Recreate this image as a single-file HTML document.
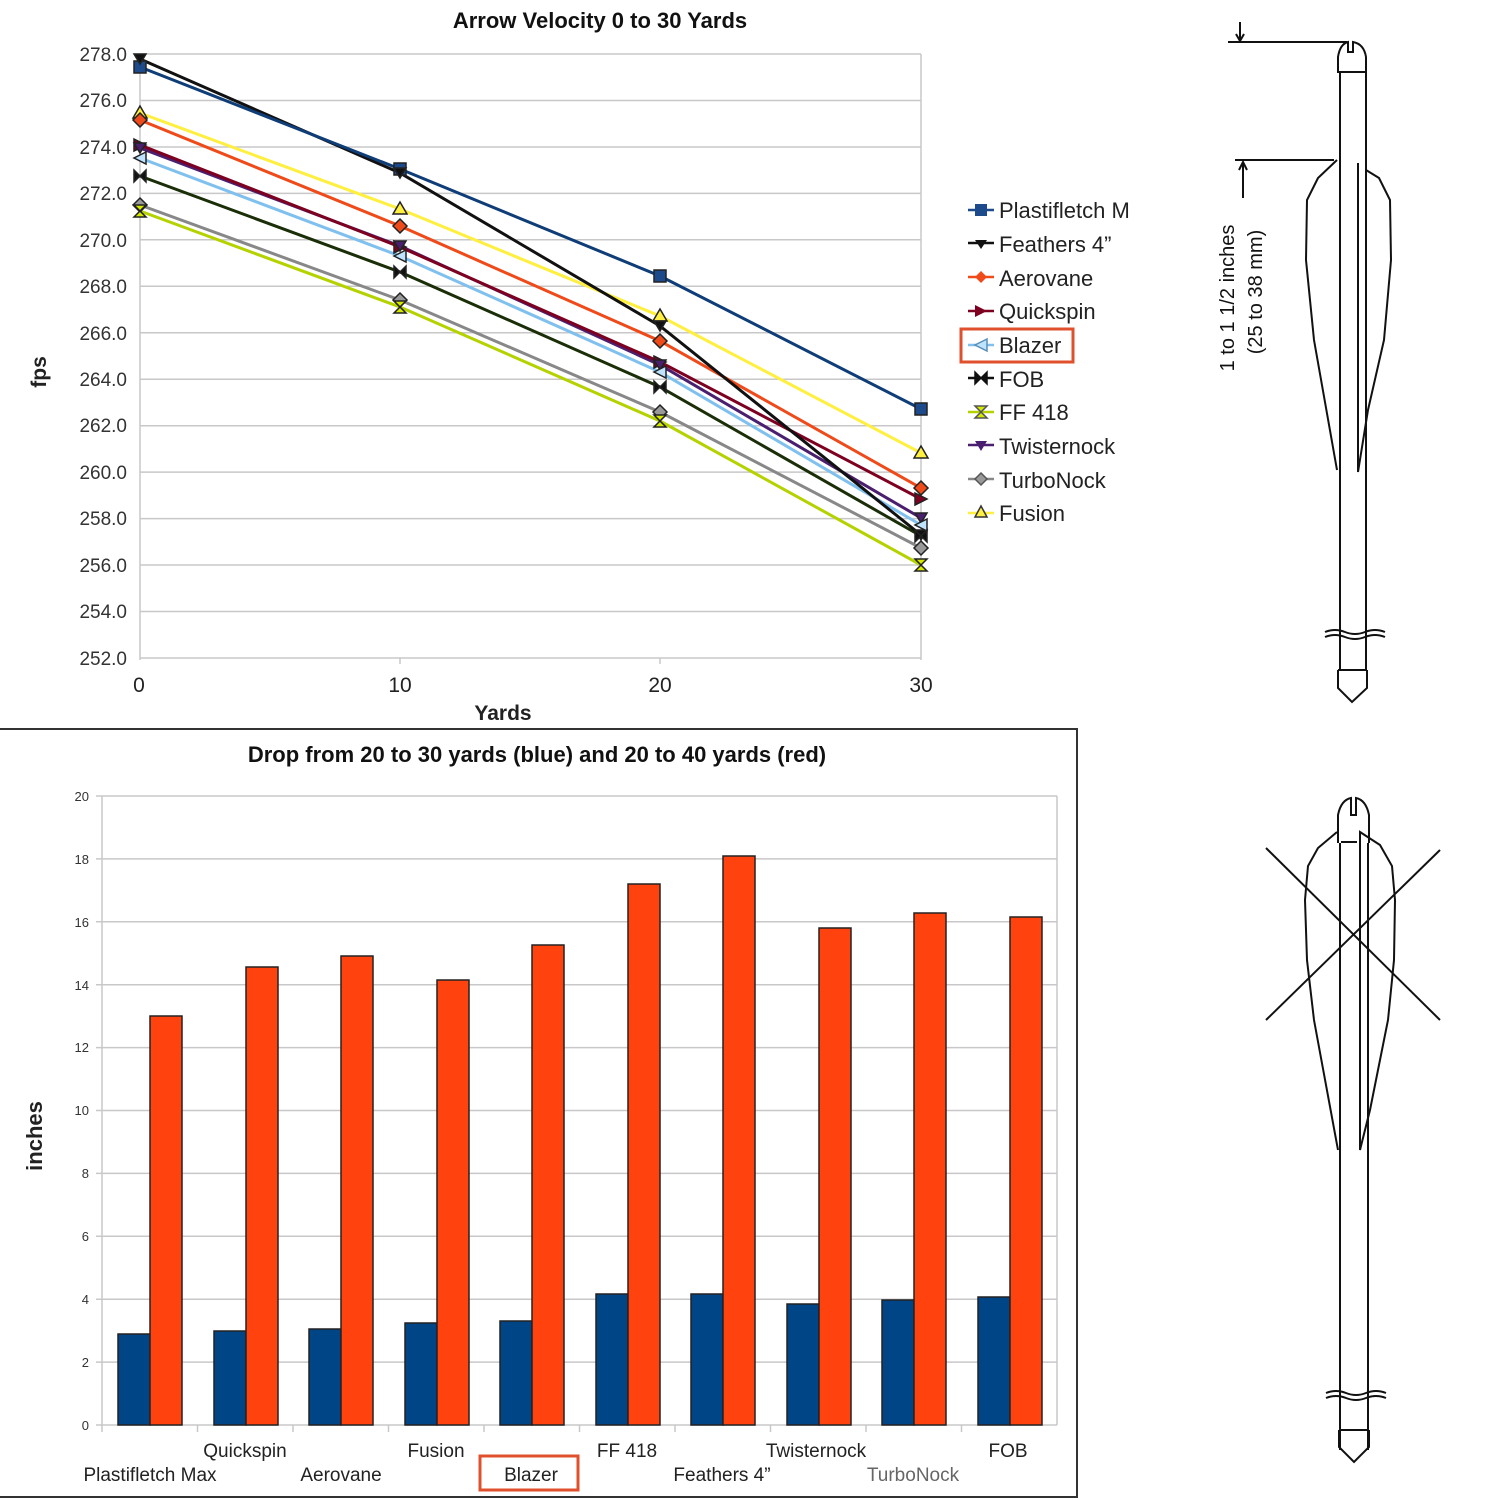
<!DOCTYPE html>
<html><head><meta charset="utf-8"><style>
html,body{margin:0;padding:0;background:#fff;}
svg{display:block;font-family:"Liberation Sans",sans-serif;}
</style></head><body>
<svg width="1500" height="1500" viewBox="0 0 1500 1500" xmlns="http://www.w3.org/2000/svg">
<rect width="1500" height="1500" fill="#fff"/>
<!-- TOP CHART -->
<text x="600" y="28" font-size="22" font-weight="bold" text-anchor="middle" fill="#111">Arrow Velocity  0 to 30 Yards</text>
<g stroke="#c8c8c8" stroke-width="1.5">
<line x1="140" y1="54" x2="921" y2="54"/><line x1="140" y1="100.5" x2="921" y2="100.5"/><line x1="140" y1="147" x2="921" y2="147"/><line x1="140" y1="193.4" x2="921" y2="193.4"/><line x1="140" y1="239.8" x2="921" y2="239.8"/><line x1="140" y1="286.3" x2="921" y2="286.3"/><line x1="140" y1="332.8" x2="921" y2="332.8"/><line x1="140" y1="379.2" x2="921" y2="379.2"/><line x1="140" y1="425.7" x2="921" y2="425.7"/><line x1="140" y1="472.1" x2="921" y2="472.1"/><line x1="140" y1="518.6" x2="921" y2="518.6"/><line x1="140" y1="565" x2="921" y2="565"/><line x1="140" y1="611.5" x2="921" y2="611.5"/><line x1="140" y1="658" x2="921" y2="658"/>
<line x1="140" y1="54" x2="140" y2="660"/><line x1="921" y1="54" x2="921" y2="660"/>
<line x1="400" y1="658" x2="400" y2="664"/><line x1="660" y1="658" x2="660" y2="664"/>
</g>
<g font-size="19" fill="#333" text-anchor="end">
<text x="127" y="61">278.0</text><text x="127" y="107">276.0</text><text x="127" y="154">274.0</text><text x="127" y="200">272.0</text><text x="127" y="247">270.0</text><text x="127" y="293">268.0</text><text x="127" y="340">266.0</text><text x="127" y="386">264.0</text><text x="127" y="432">262.0</text><text x="127" y="479">260.0</text><text x="127" y="525">258.0</text><text x="127" y="572">256.0</text><text x="127" y="618">254.0</text><text x="127" y="665">252.0</text>
</g>
<g font-size="21" fill="#222" text-anchor="middle">
<text x="139" y="692">0</text><text x="400" y="692">10</text><text x="660" y="692">20</text><text x="921" y="692">30</text>
</g>
<text x="503" y="720" font-size="21" font-weight="bold" text-anchor="middle" fill="#222">Yards</text>
<text transform="translate(46,372) rotate(-90)" font-size="21" font-weight="bold" text-anchor="middle" fill="#222">fps</text>
<g fill="none" stroke-width="3">
<polyline stroke="#ffef40" points="140,113 400,209 660,316 921,453"/>
<polyline stroke="#b5d200" points="140,211 400,307 660,421 921,565"/>
<polyline stroke="#888" points="140,205 400,300 660,412 921,548"/>
<polyline stroke="#1a2e08" points="140,176 400,272 660,387 921,536"/>
<polyline stroke="#7fc0ee" points="140,158 400,256 660,372 921,525"/>
<polyline stroke="#4b1f6f" points="140,148 400,246 660,365 921,518"/>
<polyline stroke="#7e0021" points="140,145 400,247 660,362 921,499"/>
<polyline stroke="#ee4a1a" points="140,120 400,226 660,341 921,488"/>
<polyline stroke="#111" points="140,59 400,173 660,326 921,535"/>
<polyline stroke="#0e3d78" points="140,67 400,169 660,276 921,409"/>
</g>
<g stroke-width="1.5" stroke="#222">
<g fill="#1d4a8a"><rect x="134" y="61" width="12" height="12"/><rect x="394" y="163" width="12" height="12"/><rect x="654" y="270" width="12" height="12"/><rect x="915" y="403" width="12" height="12"/></g>
<g fill="#ffef40"><path d="M140,106 l7,12 h-14z"/><path d="M400,202 l7,12 h-14z"/><path d="M660,309 l7,12 h-14z"/><path d="M921,446 l7,12 h-14z"/></g>
<g fill="#ee4a1a"><path d="M140,113 l7,7 -7,7 -7,-7z"/><path d="M400,219 l7,7 -7,7 -7,-7z"/><path d="M660,334 l7,7 -7,7 -7,-7z"/><path d="M921,481 l7,7 -7,7 -7,-7z"/></g>
<g fill="#999"><path d="M140,198 l7,7 -7,7 -7,-7z"/><path d="M400,293 l7,7 -7,7 -7,-7z"/><path d="M660,405 l7,7 -7,7 -7,-7z"/><path d="M921,541 l7,7 -7,7 -7,-7z"/></g>
<g fill="#7e0021"><path d="M134,139 l12,6 -12,6z"/><path d="M394,241 l12,6 -12,6z"/><path d="M654,356 l12,6 -12,6z"/><path d="M915,493 l12,6 -12,6z"/></g>
<g fill="#4b1f6f"><path d="M134,143 h12 l-6,10z"/><path d="M394,241 h12 l-6,10z"/><path d="M654,360 h12 l-6,10z"/><path d="M915,513 h12 l-6,10z"/></g>
<g fill="#111"><path d="M134,54 h12 l-6,10z"/><path d="M394,168 h12 l-6,10z"/><path d="M654,321 h12 l-6,10z"/><path d="M915,530 h12 l-6,10z"/></g>
<g fill="#bfe4ff"><path d="M146,152 l-12,6 12,6z"/><path d="M406,250 l-12,6 12,6z"/><path d="M666,366 l-12,6 12,6z"/><path d="M927,519 l-12,6 12,6z"/></g>
<g fill="#111"><path d="M134,170 l12,12 v-12 l-12,12z"/><path d="M394,266 l12,12 v-12 l-12,12z"/><path d="M654,381 l12,12 v-12 l-12,12z"/><path d="M915,530 l12,12 v-12 l-12,12z"/></g>
<g fill="#d4e800"><path d="M134,205 h12 l-12,12 h12z"/><path d="M394,301 h12 l-12,12 h12z"/><path d="M654,415 h12 l-12,12 h12z"/><path d="M915,559 h12 l-12,12 h12z"/></g>
</g>
<!-- legend -->
<g font-size="22" fill="#222">
<text x="999" y="218">Plastifletch M</text><text x="999" y="252">Feathers 4”</text><text x="999" y="286">Aerovane</text><text x="999" y="319">Quickspin</text><text x="999" y="353">Blazer</text><text x="999" y="387">FOB</text><text x="999" y="420">FF 418</text><text x="999" y="454">Twisternock</text><text x="999" y="488">TurboNock</text><text x="999" y="521">Fusion</text>
</g>
<rect x="1143" y="195" width="10" height="30" fill="#fff"/>
<g stroke-width="2.5">
<line x1="968" y1="210" x2="994" y2="210" stroke="#1d4a8a"/><rect x="975" y="204" width="12" height="12" fill="#1d4a8a"/>
<line x1="968" y1="243" x2="994" y2="243" stroke="#111"/><path d="M975,240 h12 l-6,9z" fill="#111"/>
<line x1="968" y1="277" x2="994" y2="277" stroke="#ee4a1a"/><path d="M981,271 l6,6 -6,6 -6,-6z" fill="#ee4a1a"/>
<line x1="968" y1="311" x2="994" y2="311" stroke="#7e0021"/><path d="M975,305 l12,6 -12,6z" fill="#7e0021"/>
<line x1="968" y1="345" x2="994" y2="345" stroke="#7fc0ee"/><path d="M987,339 l-12,6 12,6z" fill="#bfe4ff" stroke="#5a8fb8" stroke-width="1.5"/>
<line x1="968" y1="378" x2="994" y2="378" stroke="#111"/><path d="M975,372 l12,12 v-12 l-12,12z" fill="#111" stroke="#111" stroke-width="1.5"/>
<line x1="968" y1="412" x2="994" y2="412" stroke="#b5d200"/><path d="M975,406 h12 l-12,12 h12z" fill="#d4e800" stroke="#555" stroke-width="1.5"/>
<line x1="968" y1="445" x2="994" y2="445" stroke="#4b1f6f"/><path d="M975,441 h12 l-6,10z" fill="#4b1f6f"/>
<line x1="968" y1="479" x2="994" y2="479" stroke="#888"/><path d="M981,473 l6,6 -6,6 -6,-6z" fill="#999" stroke="#555" stroke-width="1.5"/>
<line x1="968" y1="513" x2="994" y2="513" stroke="#ffef40"/><path d="M981,506 l6,11 h-12z" fill="#ffef40" stroke="#333" stroke-width="1.5"/>
</g>
<rect x="961" y="329" width="112" height="33" fill="none" stroke="#e0502c" stroke-width="3"/>

<!-- BOTTOM CHART -->
<path d="M0,729 H1077 V1497 H0" fill="none" stroke="#333" stroke-width="2"/>
<text x="537" y="762" font-size="22" font-weight="bold" text-anchor="middle" fill="#111">Drop from 20 to 30 yards (blue) and 20 to 40 yards (red)</text>
<g stroke="#c8c8c8" stroke-width="1.5">
<line x1="96" y1="796" x2="1057" y2="796"/><line x1="96" y1="858.9" x2="1057" y2="858.9"/><line x1="96" y1="921.8" x2="1057" y2="921.8"/><line x1="96" y1="984.7" x2="1057" y2="984.7"/><line x1="96" y1="1047.6" x2="1057" y2="1047.6"/><line x1="96" y1="1110.5" x2="1057" y2="1110.5"/><line x1="96" y1="1173.4" x2="1057" y2="1173.4"/><line x1="96" y1="1236.3" x2="1057" y2="1236.3"/><line x1="96" y1="1299.2" x2="1057" y2="1299.2"/><line x1="96" y1="1362.1" x2="1057" y2="1362.1"/><line x1="96" y1="1425" x2="1057" y2="1425"/>
<line x1="102" y1="796" x2="102" y2="1432"/><line x1="1057" y1="796" x2="1057" y2="1425"/>
<line x1="197.5" y1="1425" x2="197.5" y2="1432"/><line x1="293" y1="1425" x2="293" y2="1432"/><line x1="388.5" y1="1425" x2="388.5" y2="1432"/><line x1="484" y1="1425" x2="484" y2="1432"/><line x1="579.5" y1="1425" x2="579.5" y2="1432"/><line x1="675" y1="1425" x2="675" y2="1432"/><line x1="770.5" y1="1425" x2="770.5" y2="1432"/><line x1="866" y1="1425" x2="866" y2="1432"/><line x1="961.5" y1="1425" x2="961.5" y2="1432"/>
</g>
<g font-size="13" fill="#333" text-anchor="end">
<text x="89" y="801">20</text><text x="89" y="864">18</text><text x="89" y="927">16</text><text x="89" y="990">14</text><text x="89" y="1052">12</text><text x="89" y="1115">10</text><text x="89" y="1178">8</text><text x="89" y="1241">6</text><text x="89" y="1304">4</text><text x="89" y="1367">2</text><text x="89" y="1430">0</text>
</g>
<text transform="translate(42,1136) rotate(-90)" font-size="22" font-weight="bold" text-anchor="middle" fill="#222">inches</text>
<g stroke="#222" stroke-width="1.5">
<g fill="#004586">
<rect x="118" y="1334" width="32" height="91"/><rect x="214" y="1331" width="32" height="94"/><rect x="309" y="1329" width="32" height="96"/><rect x="405" y="1323" width="32" height="102"/><rect x="500" y="1321" width="32" height="104"/><rect x="596" y="1294" width="32" height="131"/><rect x="691" y="1294" width="32" height="131"/><rect x="787" y="1304" width="32" height="121"/><rect x="882" y="1300" width="32" height="125"/><rect x="978" y="1297" width="32" height="128"/>
</g>
<g fill="#ff420e">
<rect x="150" y="1016" width="32" height="409"/><rect x="246" y="967" width="32" height="458"/><rect x="341" y="956" width="32" height="469"/><rect x="437" y="980" width="32" height="445"/><rect x="532" y="945" width="32" height="480"/><rect x="628" y="884" width="32" height="541"/><rect x="723" y="856" width="32" height="569"/><rect x="819" y="928" width="32" height="497"/><rect x="914" y="913" width="32" height="512"/><rect x="1010" y="917" width="32" height="508"/>
</g>
</g>
<g font-size="19" fill="#222" text-anchor="middle">
<text x="245" y="1457">Quickspin</text><text x="436" y="1457">Fusion</text><text x="627" y="1457">FF 418</text><text x="816" y="1457">Twisternock</text><text x="1008" y="1457">FOB</text>
<text x="150" y="1481">Plastifletch Max</text><text x="341" y="1481">Aerovane</text><text x="531" y="1481">Blazer</text><text x="722" y="1481">Feathers 4”</text><text x="913" y="1481" fill="#666">TurboNock</text>
</g>
<rect x="480" y="1456" width="98" height="34" fill="none" stroke="#e0502c" stroke-width="3"/>

<!-- ARROW 1 -->
<g fill="none" stroke="#111" stroke-width="2">
<line x1="1228" y1="42" x2="1347" y2="42"/>
<line x1="1240" y1="22" x2="1240" y2="40"/><path d="M1236,34 l4,7 4,-7"/>
<line x1="1235" y1="160" x2="1334" y2="160"/>
<line x1="1243" y1="163" x2="1243" y2="198"/><path d="M1239,170 l4,-8 4,8"/>
<path d="M1338,72 V57 Q1340,44 1348,42 V52 h5 V42 Q1364,44 1366,57 V72 Z"/>
<line x1="1340" y1="72" x2="1340" y2="670"/><line x1="1366" y1="72" x2="1366" y2="670"/>
<path d="M1337,160 L1318,178 L1307,200 L1306,260 L1314,340 L1337,470"/>
<path d="M1358,163 V472 L1368,410 L1384,340 L1391,260 L1390,200 L1379,178 L1366,170"/>
<path d="M1325,632 q10,-4 20,0 t20,0 t20,0"/><path d="M1325,637 q10,-4 20,0 t20,0 t20,0"/>
<line x1="1338" y1="670" x2="1367" y2="670"/>
<path d="M1338,670 V688 L1352,702 L1367,688 V670"/>
</g>
<text transform="translate(1234,298) rotate(-90)" font-size="20" text-anchor="middle" fill="#111">1 to 1 1/2 inches</text>
<text transform="translate(1262,292) rotate(-90)" font-size="20" text-anchor="middle" fill="#111">(25 to 38 mm)</text>

<!-- ARROW 2 -->
<g fill="none" stroke="#111" stroke-width="2">
<path d="M1338,843 V815 Q1341,800 1351,798 V815 h5 V798 Q1366,800 1369,815 V843"/>
<line x1="1340" y1="843" x2="1340" y2="1450"/><line x1="1368" y1="843" x2="1368" y2="1450"/>
<line x1="1341" y1="842" x2="1357" y2="842"/>
<path d="M1337,832 L1318,848 L1308,866 L1305,900 L1307,960 L1314,1020 L1338,1150"/>
<path d="M1360,832 V1150 L1370,1110 L1388,1020 L1394,960 L1395,900 L1392,866 L1380,845 Z"/>
<line x1="1266" y1="848" x2="1440" y2="1020"/><line x1="1266" y1="1020" x2="1440" y2="850"/>
<path d="M1326,1393 q10,-4 20,0 t20,0 t20,0"/><path d="M1326,1398 q10,-4 20,0 t20,0 t20,0"/>
<line x1="1339" y1="1430" x2="1369" y2="1430"/>
<path d="M1339,1430 V1447 L1354,1462 L1369,1447 V1430"/>
</g>
</svg>
</body></html>
